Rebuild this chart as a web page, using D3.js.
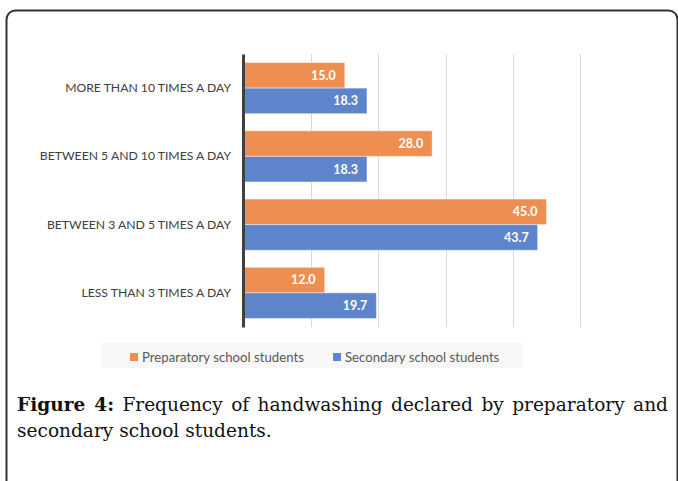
<!DOCTYPE html>
<html>
<head>
<meta charset="utf-8">
<script src="https://cdn.jsdelivr.net/npm/d3@7"></script>
<style>
  html, body { margin: 0; padding: 0; background: #ffffff; }
  svg { display: block; }
</style>
</head>
<body>
<svg id="chart" width="678" height="481"></svg>
<script>
// Handwashing frequency, percent of students per answer
const categories = [
  "MORE THAN 10 TIMES A DAY",
  "BETWEEN 5 AND 10 TIMES A DAY",
  "BETWEEN 3 AND 5 TIMES A DAY",
  "LESS THAN 3 TIMES A DAY"
];
const seriesNames = ["Preparatory school students", "Secondary school students"];
const preparatory = [15.0, 28.0, 45.0, 12.0];
const secondary = [18.3, 18.3, 43.7, 19.7];
const xTicks = [0, 10, 20, 30, 40, 50];
const captionBold = "Figure 4:";
const captionLine1 = "Frequency of handwashing declared by preparatory and";
const captionLine2 = "secondary school students.";

const colors = ["#EE8F51", "#5E84CC"];
const rows = categories.map((c, i) => ({ category: c, values: [preparatory[i], secondary[i]] }));
const sans = "Lato, 'Open Sans', sans-serif";

const svg = d3.select("#chart");

// outer frame (rounded box that runs off the right and bottom edges)
svg.append("rect")
  .attr("x", 6.5).attr("y", 10.5)
  .attr("width", 671).attr("height", 520)
  .attr("rx", 9).attr("ry", 9)
  .attr("fill", "none")
  .attr("stroke", "#333333")
  .attr("stroke-width", 2);

const plot = { left: 244, right: 580, top: 54, bottom: 327 };

const x = d3.scaleLinear().domain([0, 50]).range([plot.left, plot.right]);
const y = d3.scaleBand().domain(categories).range([plot.top, plot.bottom])
  .paddingInner(0.25).paddingOuter(0.125);
const ySub = d3.scaleBand().domain([0, 1]).range([0, y.bandwidth()]);

// vertical gridlines
svg.append("g")
  .selectAll("line")
  .data(xTicks.filter(t => t > 0))
  .join("line")
  .attr("x1", d => Math.round(x(d)) + 0.5)
  .attr("x2", d => Math.round(x(d)) + 0.5)
  .attr("y1", plot.top)
  .attr("y2", plot.bottom)
  .attr("stroke", "#d9d9d9")
  .attr("stroke-width", 1);

// bars
const groups = svg.append("g")
  .selectAll("g")
  .data(rows)
  .join("g")
  .attr("transform", d => `translate(0,${y(d.category)})`);

groups.selectAll("rect")
  .data(d => d.values.map((v, k) => ({ v, k })))
  .join("rect")
  .attr("x", x(0))
  .attr("y", d => ySub(d.k))
  .attr("width", d => x(d.v) - x(0))
  .attr("height", ySub.bandwidth())
  .attr("fill", d => colors[d.k])
  .attr("stroke", "rgba(255,255,255,0.45)")
  .attr("stroke-width", 1);

groups.selectAll("text")
  .data(d => d.values.map((v, k) => ({ v, k })))
  .join("text")
  .attr("x", d => x(d.v) - 9)
  .attr("y", d => ySub(d.k) + ySub.bandwidth() / 2)
  .attr("dy", "0.35em")
  .attr("text-anchor", "end")
  .attr("font-family", sans)
  .attr("font-weight", "bold")
  .attr("font-size", 12.5)
  .attr("fill", "#ffffff")
  .text(d => d.v.toFixed(1));

// category axis
const yAxis = d3.axisLeft(y).tickSize(0).tickPadding(12);
const yAxisG = svg.append("g")
  .attr("transform", `translate(${plot.left - 1},0)`)
  .call(yAxis);
yAxisG.select(".domain")
  .attr("stroke", "#404040")
  .attr("stroke-width", 3);
yAxisG.selectAll("text")
  .attr("font-family", sans)
  .attr("font-size", 12.2)
  .attr("fill", "#404040");

// legend
const legend = svg.append("g");
legend.append("rect")
  .attr("x", 102).attr("y", 343)
  .attr("width", 421).attr("height", 25)
  .attr("fill", "#f7f7f7");
const legendX = [130, 333];
const items = legend.selectAll("g.item")
  .data(seriesNames)
  .join("g")
  .attr("class", "item")
  .attr("transform", (d, i) => `translate(${legendX[i]},357)`);
items.append("rect")
  .attr("x", 0).attr("y", -4)
  .attr("width", 8).attr("height", 8)
  .attr("fill", (d, i) => colors[i]);
items.append("text")
  .attr("x", 12).attr("y", 0)
  .attr("dy", "0.35em")
  .attr("font-family", sans)
  .attr("font-size", 13.2)
  .attr("fill", "#595959")
  .text(d => d);

// caption: size the serif face so the short second line spans its width,
// then justify the first line between the frame margins
const capLeft = 17, capRight = 668, line2Width = 255;
const capFont = "'DejaVu Serif', 'Liberation Serif', serif";

const line2 = svg.append("text")
  .attr("x", capLeft).attr("y", 437)
  .attr("font-family", capFont)
  .attr("font-size", 18)
  .attr("fill", "#111111")
  .text(captionLine2);
const capSize = 18 * line2Width / line2.node().getComputedTextLength();
line2.attr("font-size", capSize);

const line1 = svg.append("text")
  .attr("x", capLeft).attr("y", 411)
  .attr("font-family", capFont)
  .attr("font-size", capSize)
  .attr("fill", "#111111");
line1.append("tspan").attr("font-weight", "bold").text(captionBold);
line1.append("tspan").text(" " + captionLine1);
const gaps = (captionBold + " " + captionLine1).split(" ").length - 1;
const natural = line1.node().getComputedTextLength();
line1.attr("word-spacing", Math.max(0, (capRight - capLeft - natural) / gaps));
</script>
</body>
</html>
